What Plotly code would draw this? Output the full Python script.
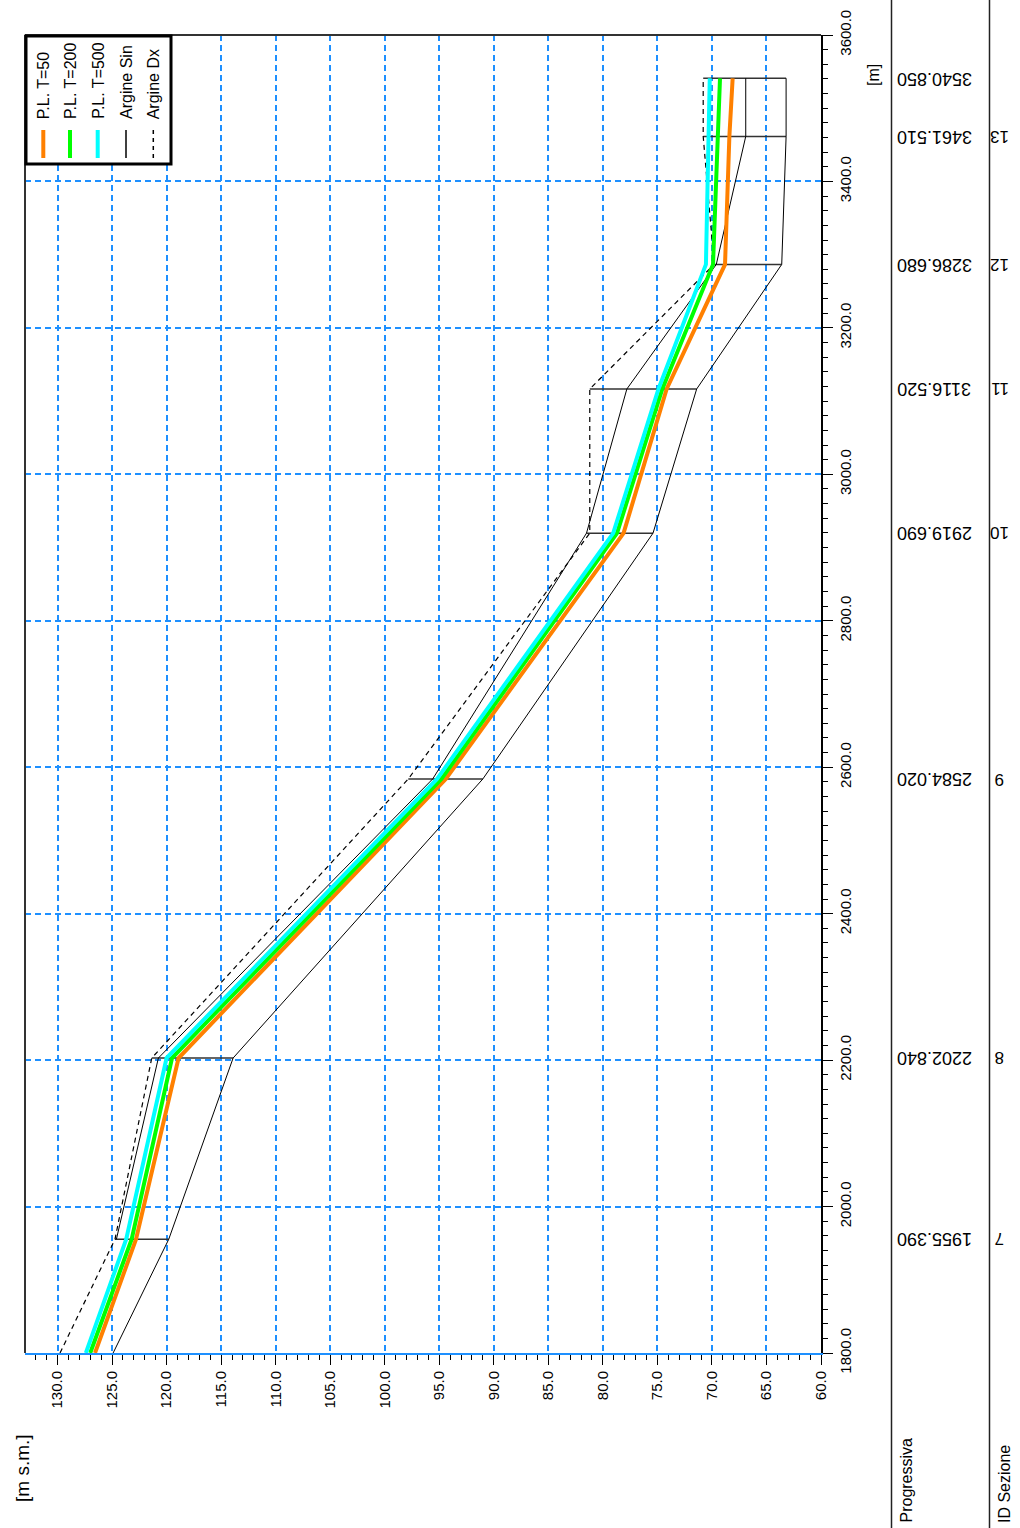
import plotly.graph_objects as go

# progressive (m) of the sections; first point is the lower edge of the view
prog = [1800.0, 1955.39, 2202.84, 2584.02, 2919.69, 3116.52, 3286.68, 3461.51, 3540.85]
sez_id = ["", "7", "8", "9", "10", "11", "12", "13", ""]
prog_lbl = ["", "1955.390", "2202.840", "2584.020", "2919.690", "3116.520", "3286.680", "3461.510", "3540.850"]

# water surface levels [m s.m.]
pl_t50 = [126.56, 122.8, 118.9, 94.4, 78.1, 74.15, 68.8, 68.4, 68.1]
pl_t200 = [127.0, 123.2, 119.5, 94.8, 78.7, 74.55, 69.9, 69.5, 69.26]
pl_t500 = [127.4, 123.7, 120.0, 95.2, 79.05, 74.9, 70.55, 70.3, 70.2]

# banks and channel bottom
argine_sin = [None, 124.6, 120.75, 95.6, 81.5, 77.8, 69.6, 66.9, 66.9]
argine_dx = [129.77, 124.73, 121.36, 97.84, 81.2, 81.2, 69.8, 70.8, 70.8]
fondo = [124.9, 119.8, 113.9, 91.0, 75.4, 71.4, 63.6, 63.2, 63.2]

elev_ticks = list(range(60, 131, 5))

W, H = 1020, 1528
L, R, T, B = 25, 199, 35, 175
pw, ph = W - L - R, H - T - B

def px(x):
    return (x - L) / pw

def py(y):
    return (H - B - y) / ph

FONT = "Liberation Sans, Arial, sans-serif"
BLUE = "#1E90FF"

fig = go.Figure()

# section lines: from the highest bank down to the bottom
sx, sy = [], []
for i in range(1, len(prog)):
    banks = [v for v in (argine_sin[i], argine_dx[i]) if v is not None]
    sx += [max(banks), fondo[i], None]
    sy += [prog[i], prog[i], None]
fig.add_trace(go.Scatter(x=sx, y=sy, mode='lines', line=dict(color='#333333', width=1.5),
                         showlegend=False, hoverinfo='skip'))

fig.add_trace(go.Scatter(x=fondo, y=prog, mode='lines', line=dict(color='black', width=1),
                         showlegend=False))
fig.add_trace(go.Scatter(x=argine_sin, y=prog, mode='lines', line=dict(color='black', width=1),
                         name='Argine Sin', showlegend=False))
fig.add_trace(go.Scatter(x=argine_dx, y=prog, mode='lines',
                         line=dict(color='black', width=1.2, dash='5px,4px'),
                         name='Argine Dx', showlegend=False))

series = [("P.L. T=50", pl_t50, '#FF8000'),
          ("P.L. T=200", pl_t200, '#00FF00'),
          ("P.L. T=500", pl_t500, '#00FFFF')]
for name, vals, col in series:
    fig.add_trace(go.Scatter(x=vals, y=prog, mode='lines', line=dict(color=col, width=4),
                             name=name, showlegend=False))

fig.update_layout(
    width=W, height=H,
    margin=dict(l=L, r=R, t=T, b=B),
    plot_bgcolor='white', paper_bgcolor='white',
    font=dict(family=FONT, size=15, color='black'),
    showlegend=False,
)

fig.update_xaxes(range=[132.98, 60], tickvals=elev_ticks, tickformat='.1f', tickangle=-90,
                 ticks='outside', ticklen=10, tickcolor='black', tickwidth=1,
                 minor=dict(dtick=1, ticklen=5, tickcolor='black', showgrid=False),
                 showgrid=True, gridcolor=BLUE, gridwidth=2, griddash='6px,4px',
                 showline=True, linecolor=BLUE, linewidth=2, zeroline=False,
                 automargin=False, tickfont=dict(size=15))
fig.update_yaxes(range=[1800, 3600], side='right', dtick=200, tick0=1800, tickformat='.1f',
                 tickangle=-90, ticks='outside', ticklen=10, tickcolor='black',
                 minor=dict(dtick=20, ticklen=5, tickcolor='black', showgrid=False),
                 showgrid=True, gridcolor=BLUE, gridwidth=2, griddash='6px,4px',
                 showline=True, linecolor='black', linewidth=2, zeroline=False,
                 automargin=False, tickfont=dict(size=15))

shapes = [
    # frame: left and top edges
    dict(type='line', xref='paper', yref='paper', x0=0, x1=0, y0=0, y1=1,
         line=dict(color='#333333', width=2)),
    dict(type='line', xref='paper', yref='paper', x0=0, x1=1, y0=1, y1=1,
         line=dict(color='#333333', width=2)),
    # table separators
    dict(type='line', xref='paper', yref='paper', x0=px(891.5), x1=px(891.5), y0=py(H), y1=py(0),
         line=dict(color='#222222', width=1.5)),
    dict(type='line', xref='paper', yref='paper', x0=px(989.5), x1=px(989.5), y0=py(H), y1=py(0),
         line=dict(color='#222222', width=1.5)),
    # legend box
    dict(type='rect', xref='paper', yref='paper', x0=px(26), x1=px(171), y0=py(164), y1=py(36),
         fillcolor='white', line=dict(color='black', width=3), layer='above'),
]

annotations = []
leg_x = [43.3, 70, 97.7, 126, 153.3]
leg_items = [("P.L. T=50", '#FF8000', 4, 'solid'),
             ("P.L. T=200", '#00FF00', 4, 'solid'),
             ("P.L. T=500", '#00FFFF', 4, 'solid'),
             ("Argine Sin", 'black', 1.5, 'solid'),
             ("Argine Dx", 'black', 1.5, '4px,4px')]
for lx, (txt, col, w, dash) in zip(leg_x, leg_items):
    shapes.append(dict(type='line', xref='paper', yref='paper', x0=px(lx), x1=px(lx),
                       y0=py(158), y1=py(130), line=dict(color=col, width=w, dash=dash),
                       layer='above'))
    annotations.append(dict(text=txt, xref='paper', yref='paper', x=px(lx), y=py(121),
                            xanchor='center', yanchor='bottom', textangle=-90, showarrow=False,
                            font=dict(size=16)))

for p, lbl, sid in zip(prog, prog_lbl, sez_id):
    if lbl:
        annotations.append(dict(text=lbl, xref='paper', yref='y', x=px(934), y=p,
                                xanchor='center', yanchor='middle', textangle=180,
                                showarrow=False, font=dict(size=18)))
    if sid:
        annotations.append(dict(text=sid, xref='paper', yref='y', x=px(1000), y=p,
                                xanchor='center', yanchor='middle', textangle=180,
                                showarrow=False, font=dict(size=17)))

annotations += [
    dict(text="[m]", xref='paper', yref='paper', x=px(874), y=py(62), textangle=-90,
         xanchor='center', yanchor='top', showarrow=False, font=dict(size=16)),
    dict(text="[m s.m.]", xref='paper', yref='paper', x=px(22), y=py(1504), textangle=-90,
         xanchor='center', yanchor='bottom', showarrow=False, font=dict(size=19)),
    dict(text="Progressiva", xref='paper', yref='paper', x=px(906), y=py(1525),
         xanchor='center', yanchor='bottom', textangle=-90, showarrow=False, font=dict(size=16)),
    dict(text="ID Sezione", xref='paper', yref='paper', x=px(1004), y=py(1525),
         xanchor='center', yanchor='bottom', textangle=-90, showarrow=False, font=dict(size=16)),
]

fig.update_layout(shapes=shapes, annotations=annotations)

fig.write_html("out.html", config={'displayModeBar': False},
               post_script="document.body.style.margin='0';")
